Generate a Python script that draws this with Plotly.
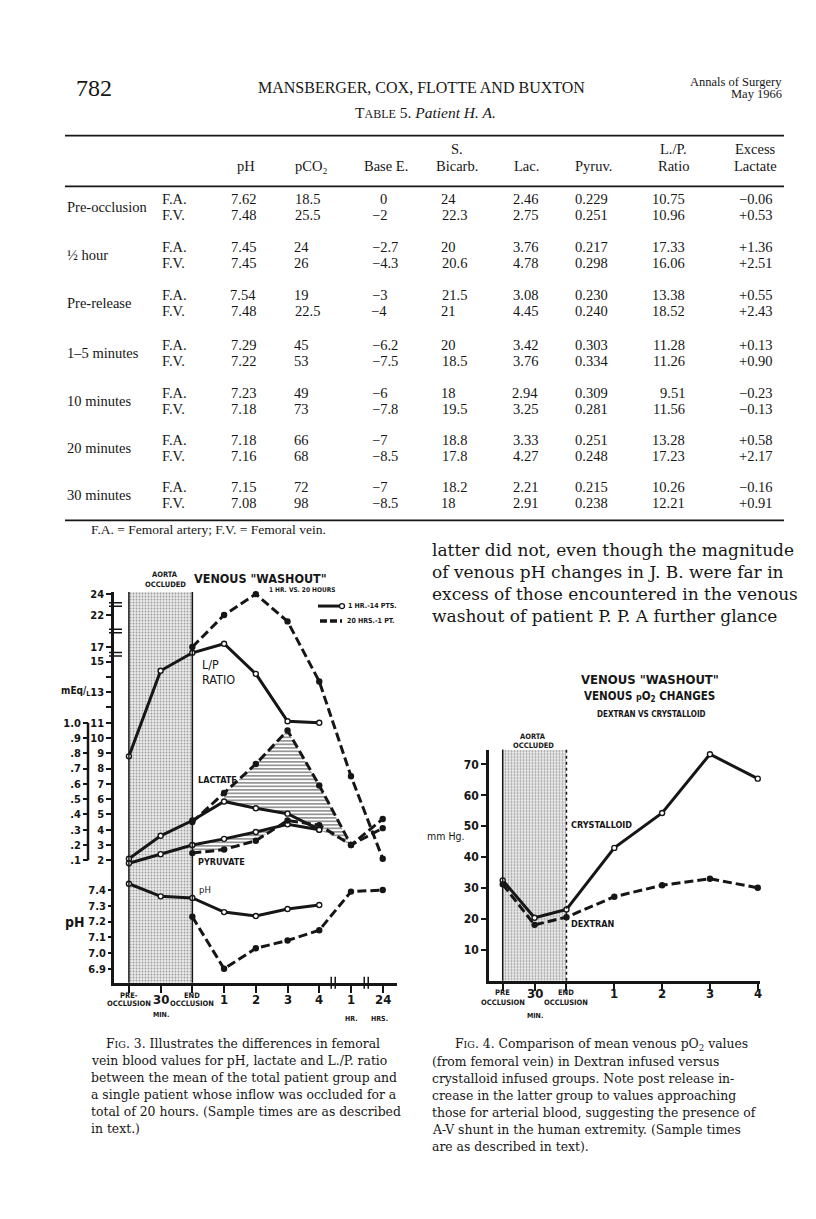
import numpy as np
import plotly.graph_objects as go

W, H = 816, 1219
OFF = 8          # the page body margin in the browser; positions below are measured on the page
INK = "#161616"
SERIF = "Liberation Serif, Times New Roman, serif"
BOOK = "DejaVu Serif, Liberation Serif, serif"
GOTHIC = "DejaVu Sans Condensed, Liberation Sans Narrow, Liberation Sans, sans-serif"

# ---------------- Table 5, patient H. A. (F.A. row then F.V. row per period) ----------------
periods = ["Pre-occlusion", "½ hour", "Pre-release", "1–5 minutes", "10 minutes", "20 minutes", "30 minutes"]
sites = ["F.A.", "F.V."]
ph = ["7.62", "7.48", "7.45", "7.45", "7.54", "7.48", "7.29", "7.22", "7.23", "7.18", "7.18", "7.16", "7.15", "7.08"]
pco2 = ["18.5", "25.5", "24", "26", "19", "22.5", "45", "53", "49", "73", "66", "68", "72", "98"]
base_e = ["0", "−2", "−2.7", "−4.3", "−3", "−4", "−6.2", "−7.5", "−6", "−7.8", "−7", "−8.5", "−7", "−8.5"]
bicarb = ["24", "22.3", "20", "20.6", "21.5", "21", "20", "18.5", "18", "19.5", "18.8", "17.8", "18.2", "18"]
lac = ["2.46", "2.75", "3.76", "4.78", "3.08", "4.45", "3.42", "3.76", "2.94", "3.25", "3.33", "4.27", "2.21", "2.91"]
pyruv = ["0.229", "0.251", "0.217", "0.298", "0.230", "0.240", "0.303", "0.334", "0.309", "0.281", "0.251", "0.248", "0.215", "0.238"]
lp_ratio = ["10.75", "10.96", "17.33", "16.06", "13.38", "18.52", "11.28", "11.26", "9.51", "11.56", "13.28", "17.23", "10.26", "12.21"]
excess = ["−0.06", "+0.53", "+1.36", "+2.51", "+0.55", "+2.43", "+0.13", "+0.90", "−0.23", "−0.13", "+0.58", "+2.17", "−0.16", "+0.91"]
table_cols = [("", "pH", ph), ("", "pCO₂", pco2), ("", "Base E.", base_e), ("S.", "Bicarb.", bicarb),
              ("", "Lac.", lac), ("", "Pyruv.", pyruv), ("L./P.", "Ratio", lp_ratio), ("Excess", "Lactate", excess)]

# ---------------- Fig. 3: venous washout, 1 hr group (14 pts) vs 20 hr patient ----------------
fig3_ticks = ["PRE-<br>OCCLUSION", "30", "END<br>OCCLUSION", "1", "2", "3", "4", "1", "24"]
group_t = [0, 1, 2, 3, 4, 5, 6]
lp_group = [8.8, 14.4, 16.2, 17.5, 14.2, 11.1, 11.0]
lac_group = [2.1, 3.6, 4.6, 5.85, 5.4, 5.05, 4.0]
pyr_group = [0.08, 0.14, 0.20, 0.24, 0.285, 0.335, 0.30]
ph_group = [7.44, 7.36, 7.35, 7.26, 7.235, 7.28, 7.305]
patient_t = [2, 3, 4, 5, 6, 7, 8]
lp_patient = [17.0, 22.0, 24.0, 21.0, 13.7, 7.5, 2.1]
lac_patient = [4.5, 6.4, 8.3, 10.5, 6.9, 3.0, 4.7]
pyr_patient = [0.147, 0.17, 0.228, 0.36, 0.33, 0.20, 0.31]
ph_patient = [7.23, 6.90, 7.03, 7.08, 7.145, 7.39, 7.40]

# ---------------- Fig. 4: venous pO2, dextran vs crystalloid ----------------
fig4_ticks = ["PRE<br>OCCLUSION", "30", "END<br>OCCLUSION", "1", "2", "3", "4"]
fig4_t = [0, 1, 2, 3.5, 5, 6.5, 8]
crystalloid = [32.5, 20.4, 23.1, 43.0, 54.3, 73.3, 65.4]
dextran = [31.2, 18.1, 20.6, 27.2, 30.9, 33.0, 30.1]

# ---------------- page geometry (pixels) ----------------
L_X = (114, 397); L_XR = [-0.47, 8.45]
L_Y = (590, 982); L_YR = [-6.02, 19.55]       # mEq/L (lactate & L/P) scale
PH_R = [6.811, 9.292]
PYR_R = [(L_YR[0] - 1) / 10, (L_YR[1] - 1) / 10]  # pyruvate .1-1.0 sits against 2-11
R_X = (489, 760); R_XR = [-0.43, 8.07]
R_Y = (748, 980); R_YR = [0, 74.8]

# broken L/P scale above 15
LP_KNOTS = [15, 17, 22, 24]
LP_AXIS = [15, 15.96, 18.05, 19.42]


def lp_axis(v):
    v = np.asarray(v, dtype=float)
    return np.where(v <= 15, v, np.interp(v, LP_KNOTS, LP_AXIS))


def fx(px):
    return (px - OFF) / W


def fy(py):
    return 1 - (py - OFF) / H


annotations = []
shapes = []


def txt(x, y, s, size=13, family=SERIF, anchor="center", weight="normal", xref="paper"):
    if family != GOTHIC:
        y -= 4
    annotations.append(dict(x=x if xref != "paper" else fx(x), y=fy(y), xref=xref, yref="paper", text=s,
                            showarrow=False, xanchor=anchor, yanchor="middle",
                            font=dict(size=size, family=family, color=INK, weight=weight)))


def seg(x0, y0, x1, y1, w=1.5, dash="solid"):
    shapes.append(dict(type="line", xref="paper", yref="paper", x0=fx(x0), x1=fx(x1), y0=fy(y0), y1=fy(y1),
                       line=dict(color=INK, width=w, dash=dash)))


# ---------------- running head + table ----------------
txt(74, 88, "782", 24, anchor="left")
txt(421, 88, "MANSBERGER, COX, FLOTTE AND BUXTON", 16)
txt(784, 82, "Annals of Surgery", 12.5, anchor="right")
txt(784, 94, "May 1966", 12.5, anchor="right")
txt(426, 113, "T<span style='font-size:12px'>ABLE</span> 5. <i>Patient H. A.</i>", 15.5)

seg(65, 132, 784, 132, 1.8)
seg(65, 183, 784, 183, 1.8)
seg(65, 518, 784, 518, 1.8)

row_y = [200, 248, 296, 346, 394, 441, 489]
head_x = [246, 311, 386, 457, 526, 593, 673, 755]
int_right = [240, 311, 389, 458, 522, 585, 669, 757]
DIGIT, POINT = 7.25, 3.63
for (h1, h2, vals), hx, ir in zip(table_cols, head_x, int_right):
    if h1:
        txt(hx, 149, h1, 14.5)
    txt(hx, 167, h2, 14.5)
    for i, v in enumerate(vals):
        frac = 0 if "." not in v else POINT + DIGIT * len(v.split(".")[1])
        txt(ir + frac, row_y[i // 2] + 16 * (i % 2), v, 14.5, anchor="right")
for k, p in enumerate(periods):
    txt(65, row_y[k] + 8, p, 14.5, anchor="left")
    for j, s in enumerate(sites):
        txt(160, row_y[k] + 16 * j, s, 14.5, anchor="left")
txt(89, 531, "F.A. = Femoral artery; F.V. = Femoral vein.", 13.5, anchor="left")

# ---------------- body text ----------------
body = ["latter did not, even though the magnitude",
        "of venous pH changes in J. B. were far in",
        "excess of those encountered in the venous",
        "washout of patient P. P. A further glance"]
for i, line in enumerate(body):
    txt(430, 552 + 22 * i, line, 17, family=BOOK, anchor="left")

cap3 = ["F<span style='font-size:9.5px'>IG</span>. 3. Illustrates the differences in femoral",
        "vein blood values for pH, lactate and L./P. ratio",
        "between the mean of the total patient group and",
        "a single patient whose inflow was occluded for a",
        "total of 20 hours. (Sample times are as described",
        "in text.)"]
for i, line in enumerate(cap3):
    txt(104 if i == 0 else 89, 1047 + 17 * i, line, 12.4, family=BOOK, anchor="left")
cap4 = ["F<span style='font-size:9.5px'>IG</span>. 4. Comparison of mean venous pO<sub>2</sub> values",
        "(from femoral vein) in Dextran infused versus",
        "crystalloid infused groups. Note post release in-",
        "crease in the latter group to values approaching",
        "those for arterial blood, suggesting the presence of",
        "A-V shunt in the human extremity. (Sample times",
        "are as described in text)."]
for i, line in enumerate(cap4):
    txt(453 if i == 0 else 430, 1048 + 17 * i, line, 12.4, family=BOOK, anchor="left")

# ---------------- figure traces ----------------
fig = go.Figure()
stipple = dict(shape=".", fgcolor="#4a4a4a", bgcolor="#ececec", size=3, solidity=0.32)

# aorta occluded bands (pre-occlusion -> end occlusion)
fig.add_trace(go.Bar(x=[np.mean(group_t[:3:2])], y=[L_YR[1] - L_YR[0]], base=[L_YR[0]], width=[group_t[2] - group_t[0]],
                     xaxis="x", yaxis="y", marker=dict(color="#dddddd", line=dict(width=0), pattern=stipple)))
fig.add_trace(go.Bar(x=[np.mean(fig4_t[:3:2])], y=[R_YR[1]], base=[0], width=[fig4_t[2] - fig4_t[0]],
                     xaxis="x2", yaxis="y4", marker=dict(color="#dddddd", line=dict(width=0), pattern=stipple)))

hatch = dict(shape="-", fgcolor=INK, bgcolor="rgba(255,255,255,0)", size=3.5, solidity=0.45)

# lactate: patient above group after release
lh_x = patient_t[1:6] + group_t[6:2:-1]
lh_y = lac_patient[1:6] + lac_group[6:2:-1]
fig.add_trace(go.Scatter(x=lh_x, y=lh_y, fill="toself", mode="none", fillcolor="rgba(0,0,0,0)",
                         fillpattern=hatch, xaxis="x", yaxis="y"))
# pyruvate: patient below group
ph_x = group_t[2:6] + patient_t[3::-1]
ph_y = pyr_group[2:6] + pyr_patient[3::-1]
fig.add_trace(go.Scatter(x=ph_x, y=ph_y, fill="toself", mode="none", fillcolor="rgba(0,0,0,0)",
                         fillpattern=hatch, xaxis="x", yaxis="y3"))


def curve(x, y, yaxis, dashed, xaxis="x", width=3):
    fig.add_trace(go.Scatter(
        x=x, y=y, xaxis=xaxis, yaxis=yaxis, mode="lines+markers", cliponaxis=False,
        line=dict(color=INK, width=width, dash="9px,4px" if dashed else "solid"),
        marker=dict(size=5, color=INK if dashed else "white", line=dict(color=INK, width=1.4))))


curve(group_t, lp_axis(lp_group), "y", False)
curve(patient_t, lp_axis(lp_patient), "y", True)
curve(group_t, lac_group, "y", False)
curve(patient_t, lac_patient, "y", True)
curve(group_t, pyr_group, "y3", False)
curve(patient_t, pyr_patient, "y3", True)
curve(group_t, ph_group, "y2", False)
curve(patient_t, ph_patient, "y2", True)

curve(fig4_t, crystalloid, "y4", False, xaxis="x2", width=3)
curve(fig4_t, dextran, "y4", True, xaxis="x2", width=3)

# ---------------- Fig. 3 decorations ----------------
for t in (group_t[0], group_t[2]):
    shapes.append(dict(type="line", xref="x", yref="y domain", x0=t, x1=t, y0=0, y1=1, line=dict(color=INK, width=1.5)))
txt(165, 572, "AORTA", 7.5, GOTHIC, weight="bold")
txt(165, 582, "OCCLUDED", 7.5, GOTHIC, weight="bold")
txt(260, 576, "VENOUS \"WASHOUT\"", 12.5, GOTHIC, weight="bold")
txt(302, 588, "1 HR. VS. 20 HOURS", 6.5, GOTHIC, weight="bold")
seg(318, 604, 341, 604, 3)
shapes.append(dict(type="circle", xref="paper", yref="paper", xsizemode="pixel", ysizemode="pixel",
                   xanchor=fx(342), yanchor=fy(604), x0=-2.5, x1=2.5, y0=-2.5, y1=2.5,
                   line=dict(color=INK, width=1.3), fillcolor="white"))
txt(346, 604, "1 HR.-14 PTS.", 7, GOTHIC, anchor="left", weight="bold")
seg(320, 619, 342, 619, 3.5, dash="7px,3px")
txt(345, 619, "20 HRS.-1 PT.", 7, GOTHIC, anchor="left", weight="bold")

txt(75, 690, "mEq/<sub>L</sub>", 10, GOTHIC, weight="bold")
txt(75, 921, "pH", 14, GOTHIC, weight="bold")
txt(200, 663, "L/P", 12.5, GOTHIC, anchor="left")
txt(200, 678, "RATIO", 12.5, GOTHIC, anchor="left")
txt(196, 779, "LACTATE", 9, GOTHIC, anchor="left", weight="bold")
txt(196, 861, "PYRUVATE", 9, GOTHIC, anchor="left", weight="bold")
txt(197, 888, "pH", 9.5, GOTHIC, anchor="left")

# pyruvate scale line and the break marks on the L/P scale
shapes.append(dict(type="line", xref="paper", yref="y3", x0=fx(88), x1=fx(88), y0=0.1, y1=1.0, line=dict(color=INK, width=2.5)))
for v in (23, 19.5, 16):
    for d in (-1.8, 1.8):
        shapes.append(dict(type="line", xref="paper", yref="y", ysizemode="pixel", yanchor=float(lp_axis(v)),
                           x0=fx(109), x1=fx(122), y0=d, y1=d, line=dict(color=INK, width=1.5)))
# time-axis breaks
for t in (6.44, 7.48):
    for d in (-2, 2):
        shapes.append(dict(type="line", xref="x", yref="paper", xsizemode="pixel", xanchor=t,
                           x0=d, x1=d, y0=fy(988), y1=fy(976), line=dict(color=INK, width=1.5)))

for t, lab in zip(range(9), fig3_ticks):
    if "<br>" in lab:
        a, b = lab.split("<br>")
        txt(t, 995, a, 7.5, GOTHIC, weight="bold", xref="x")
        txt(t, 1003, b, 7.5, GOTHIC, weight="bold", xref="x")
    else:
        txt(t, 999, lab, 13, GOTHIC, weight="bold", xref="x")
txt(1, 1014, "MIN.", 7, GOTHIC, weight="bold", xref="x")
txt(7, 1018, "HR.", 7, GOTHIC, weight="bold", xref="x")
txt(7.9, 1018, "HRS.", 7, GOTHIC, weight="bold", xref="x")

# ---------------- Fig. 4 decorations ----------------
shapes.append(dict(type="line", xref="x2", yref="y4 domain", x0=fig4_t[0], x1=fig4_t[0], y0=0, y1=1, line=dict(color=INK, width=1.5)))
shapes.append(dict(type="line", xref="x2", yref="y4 domain", x0=fig4_t[2], x1=fig4_t[2], y0=0, y1=1, line=dict(color=INK, width=1.5, dash="dot")))
txt(650, 678, "VENOUS \"WASHOUT\"", 13, GOTHIC, weight="bold")
txt(649, 695, "VENOUS <span style='font-size:9px'>p</span>O<sub>2</sub> CHANGES", 11.5, GOTHIC, weight="bold")
txt(651, 713, "DEXTRAN VS CRYSTALLOID", 8, GOTHIC, weight="bold")
txt(533, 735, "AORTA", 7.5, GOTHIC, weight="bold")
txt(533, 744, "OCCLUDED", 7.5, GOTHIC, weight="bold")
txt(425, 835, "mm Hg.", 10.5, GOTHIC, anchor="left")
txt(569, 824, "CRYSTALLOID", 9, GOTHIC, anchor="left", weight="bold")
txt(569, 923, "DEXTRAN", 9, GOTHIC, anchor="left", weight="bold")
for t, lab in zip(fig4_t, fig4_ticks):
    if "<br>" in lab:
        a, b = lab.split("<br>")
        txt(t, 992, a, 7.5, GOTHIC, weight="bold", xref="x2")
        txt(t, 1002, b, 7.5, GOTHIC, weight="bold", xref="x2")
    else:
        txt(t, 993, lab, 13, GOTHIC, weight="bold", xref="x2")
txt(1, 1015, "MIN.", 7, GOTHIC, weight="bold", xref="x2")

# ---------------- axes ----------------
tickfont = dict(size=11, family=GOTHIC, color=INK, weight="bold")
common = dict(showgrid=False, zeroline=False, ticks="outside", tickcolor=INK, tickwidth=2, linecolor=INK, linewidth=2.5)

main_vals = list(range(2, 16)) + list(lp_axis([17, 22, 24]))
main_text = [str(v) if v not in (12, 14) else "" for v in range(2, 16)] + ["17", "22", "24"]

fig.update_layout(
    width=W, height=H, margin=dict(l=0, r=0, t=0, b=0),
    paper_bgcolor="white", plot_bgcolor="rgba(0,0,0,0)", showlegend=False,
    annotations=annotations, shapes=shapes, bargap=0,
    xaxis=dict(domain=[fx(L_X[0]), fx(L_X[1])], range=L_XR, anchor="y", showline=True,
               tickvals=list(range(9)), showticklabels=False, ticklen=7, **common),
    yaxis=dict(domain=[fy(L_Y[1]), fy(L_Y[0])], range=L_YR, anchor="x", showline=True,
               tickvals=main_vals, ticktext=main_text, tickfont=tickfont, ticklen=5, **common),
    yaxis2=dict(overlaying="y", anchor="x", side="left", range=PH_R, showline=False,
                tickvals=[6.9, 7.0, 7.1, 7.2, 7.3, 7.4], ticktext=["6.9", "7.0", "7.1", "7.2", "7.3", "7.4"],
                tickfont=tickfont, ticklen=5, **common),
    yaxis3=dict(overlaying="y", anchor="free", position=fx(88), side="left", range=PYR_R, showline=False,
                tickvals=[0.1, 0.2, 0.3, 0.4, 0.5, 0.6, 0.7, 0.8, 0.9, 1.0],
                ticktext=[".1", ".2", ".3", ".4", ".5", ".6", ".7", ".8", ".9", "1.0"],
                tickfont=tickfont, ticklen=5, **common),
    xaxis2=dict(domain=[fx(R_X[0]), fx(R_X[1])], range=R_XR, anchor="y4", showline=True,
                tickvals=fig4_t, showticklabels=False, ticklen=7, **common),
    yaxis4=dict(domain=[fy(R_Y[1]), fy(R_Y[0])], range=R_YR, anchor="x2", showline=True,
                tickvals=[10, 20, 30, 40, 50, 60, 70], tickfont=dict(size=12, family=GOTHIC, color=INK, weight="bold"),
                ticklen=5, **common),
)

fig.write_html("out.html")
